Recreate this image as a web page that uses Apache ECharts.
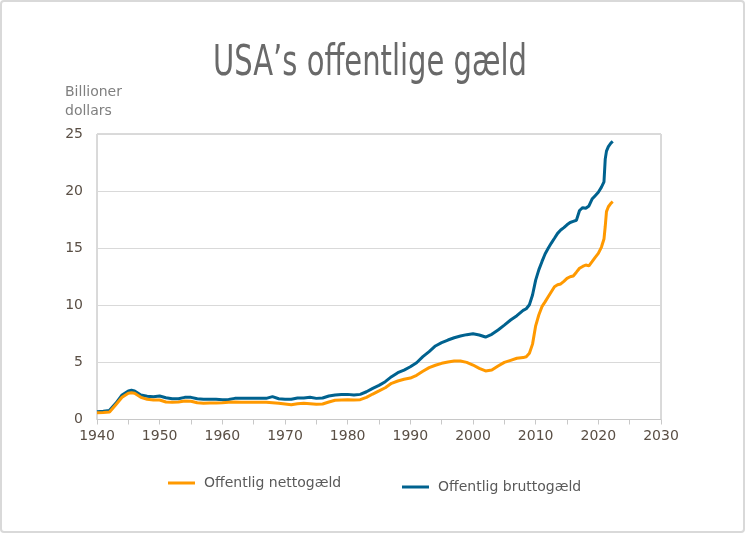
<!DOCTYPE html>
<html>
<head>
<meta charset="utf-8">
<script src="https://cdn.jsdelivr.net/npm/echarts@6/dist/echarts.min.js"></script>
<style>
html,body{margin:0;padding:0;background:#fff;}
#chart{width:745px;height:533px;}
</style>
</head>
<body>
<div id="chart"></div>
<script>
const years = [1940,1941,1942,1943,1944,1945,1945.5,1946,1947,1948,1949,1950,1951,1952,1953,1954,1955,1956,1957,1958,1959,1960,1961,1962,1963,1964,1965,1966,1967,1968,1969,1970,1971,1972,1973,1974,1975,1976,1977,1978,1979,1980,1981,1982,1983,1984,1985,1986,1987,1988,1989,1990,1991,1992,1993,1994,1995,1996,1997,1998,1999,2000,2001,2002,2003,2004,2005,2006,2007,2008,2008.5,2009,2009.5,2010,2010.5,2011,2011.5,2012,2012.5,2013,2013.5,2014,2014.5,2015,2015.5,2016,2016.5,2017,2017.5,2018,2018.5,2019,2019.5,2020,2020.5,2020.9,2021.1,2021.3,2021.6,2022,2022.3];

const brutto = [0.68,0.72,0.8,1.42,2.15,2.5,2.56,2.5,2.15,2.03,2.0,2.06,1.91,1.82,1.82,1.94,1.94,1.82,1.77,1.77,1.77,1.74,1.76,1.85,1.85,1.85,1.85,1.85,1.85,2.0,1.82,1.77,1.77,1.88,1.88,1.94,1.85,1.88,2.06,2.15,2.18,2.2,2.15,2.2,2.43,2.73,2.99,3.31,3.75,4.1,4.33,4.62,4.97,5.5,5.94,6.44,6.73,6.96,7.16,7.31,7.43,7.51,7.4,7.22,7.46,7.84,8.27,8.71,9.09,9.55,9.7,10.05,10.9,12.2,13.1,13.82,14.49,14.99,15.45,15.87,16.3,16.59,16.8,17.05,17.25,17.35,17.45,18.3,18.55,18.5,18.7,19.3,19.6,19.9,20.35,20.8,22.8,23.5,23.9,24.2,24.35];

const netto = [0.6,0.62,0.66,1.3,1.94,2.3,2.35,2.3,1.94,1.77,1.71,1.71,1.53,1.5,1.53,1.62,1.6,1.47,1.42,1.45,1.45,1.47,1.5,1.53,1.52,1.5,1.5,1.5,1.5,1.47,1.42,1.36,1.3,1.38,1.42,1.38,1.33,1.36,1.53,1.68,1.71,1.74,1.71,1.74,1.94,2.23,2.5,2.78,3.17,3.37,3.52,3.63,3.87,4.22,4.54,4.75,4.92,5.03,5.12,5.12,5.0,4.77,4.48,4.25,4.33,4.68,5.0,5.18,5.36,5.42,5.5,5.8,6.6,8.2,9.15,9.88,10.3,10.75,11.19,11.63,11.8,11.87,12.1,12.36,12.5,12.57,12.9,13.24,13.4,13.53,13.45,13.82,14.2,14.55,15.1,15.8,16.9,18.2,18.63,18.93,19.07];

const seriesNames = ['Offentlig nettogæld','Offentlig bruttogæld'];
const titleText = 'USA’s offentlige gæld';
const yUnit = 'Billioner\ndollars';

const pair = (vals) => years.map((y, i) => [y, vals[i]]);

const chart = echarts.init(document.getElementById('chart'), null, {renderer: 'canvas'});
const font = "'DejaVu Sans', Verdana, sans-serif";
chart.setOption({
  animation: false,
  backgroundColor: '#ffffff',
  grid: {
    left: 97, top: 134, width: 564, height: 285.5,
    show: true, borderColor: '#b4b4b4', borderWidth: 1
  },
  legend: [
    {
      data: [seriesNames[0]], left: 163, top: 471,
      icon: 'rect', itemWidth: 27, itemHeight: 3,
      textStyle: {fontFamily: font, fontSize: 14, color: '#595959', padding: [0,0,0,4]}
    },
    {
      data: [seriesNames[1]], left: 397, top: 475,
      icon: 'rect', itemWidth: 27, itemHeight: 3,
      textStyle: {fontFamily: font, fontSize: 14, color: '#595959', padding: [0,0,0,4]}
    }
  ],
  xAxis: {
    type: 'value', min: 1940, max: 2030, interval: 5,
    axisLine: {show: true, lineStyle: {color: '#c8c8c8'}},
    axisTick: {show: true, length: 5, lineStyle: {color: '#c8c8c8'}},
    splitLine: {show: false},
    axisLabel: {
      fontFamily: font, fontSize: 14, color: '#5a4f45', margin: 10,
      formatter: v => (v % 10 === 0 ? String(v) : '')
    }
  },
  yAxis: {
    type: 'value', min: 0, max: 25, interval: 5,
    axisLine: {show: false},
    axisTick: {show: false},
    splitLine: {show: true, lineStyle: {color: '#d9d9d9'}},
    axisLabel: {fontFamily: font, fontSize: 14, color: '#5a4f45', margin: 14}
  },
  graphic: [
    {
      type: 'rect', shape: {x: 1, y: 1, width: 743, height: 531, r: 3},
      style: {fill: 'none', stroke: '#d9d9d9', lineWidth: 2}, silent: true
    },
    {
      type: 'text', x: 370, y: 42, scaleX: 0.75, originX: 0,
      style: {
        text: titleText, fontFamily: "'DejaVu Sans Condensed','DejaVu Sans',sans-serif",
        fontSize: 43, fill: '#696969', align: 'center', verticalAlign: 'top'
      }
    },
    {
      type: 'text', left: 65, top: 83,
      style: {text: yUnit, fontFamily: font, fontSize: 14, lineHeight: 19, fill: '#7f7f7f'}
    }
  ],
  series: [
    {
      name: seriesNames[1], type: 'line', data: pair(brutto),
      showSymbol: false, lineStyle: {width: 3, color: '#00628f'}, itemStyle: {color: '#00628f'}
    },
    {
      name: seriesNames[0], type: 'line', data: pair(netto),
      showSymbol: false, lineStyle: {width: 3, color: '#ff9900'}, itemStyle: {color: '#ff9900'}
    }
  ]
});
</script>
</body>
</html>
